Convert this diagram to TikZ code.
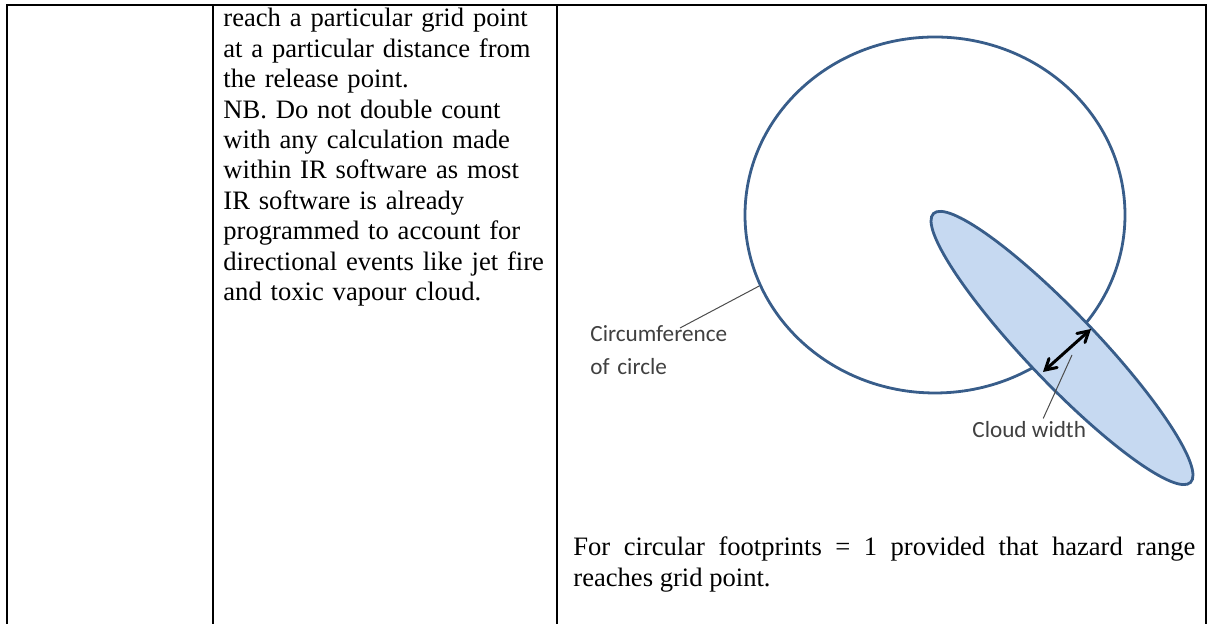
\documentclass[tikz,border=0pt]{standalone}
\usepackage{fontspec}
\setmainfont{Liberation Serif}
\newfontfamily\calibri{Carlito}
\usetikzlibrary{shapes.geometric,arrows}
\definecolor{shapeline}{HTML}{385D8A}
\definecolor{shapefill}{HTML}{C6D9F1}

\begin{document}
\begin{tikzpicture}[x=0.5pt, y=0.5pt,
		rule/.style={line width=1.2pt},
		body/.style={inner sep=0pt, anchor=base west, font=\fontsize{13.3pt}{15.2pt}\selectfont},
		callout/.style={inner sep=0pt, anchor=base west, align=left, text=black!75, font=\calibri\fontsize{11.6pt}{16.2pt}\selectfont},
		outline/.style={draw=shapeline, line width=1.4pt},
		leader/.style={draw=black!70, line width=0.5pt}]
		\useasboundingbox (0,0) rectangle (1211,624);
		\draw[rule] (7,0) -- (7,619) -- (1206,619) -- (1206,0)
		(213,0) -- (213,619)
		(557,0) -- (557,619);
		\node[body, text width=170pt, align=left] (desc) at (223,597)
		{reach a particular grid point\\at a particular distance from\\the release point.\\NB. Do not double count\\with any calculation made\\within IR software as most\\IR software is already\\programmed to account for\\directional events like jet fire\\and toxic vapour cloud.};
		\node[body, text width=311pt, align=justify] (note) at (573,68)
		{For circular footprints = 1 provided that hazard range\linebreak reaches grid point.};
		\node[outline, ellipse, minimum width=190pt, minimum height=178pt] (circ) at (935,409) {};
		\node[outline, fill=shapefill, ellipse, rotate=-46.3, minimum width=186pt, minimum height=35pt] (cloud) at (1062,276) {};
		\coordinate (wl) at (1043,252);
		\coordinate (wr) at (1091,295);
		\draw[<->, >=angle 60, line width=1.5pt] (wl) -- (wr);
		\node[callout, text width=80pt] (circlbl) at (590,282) {Circumference\\of circle};
		\coordinate (circtip) at (680,296);
		\draw[leader] (circtip) -- (circ.202);
		\node[callout] (cloudlbl) at (972,186) {Cloud width};
		\coordinate (cloudtip) at (1072,269);
		\draw[leader] ([xshift=7pt,yshift=1.5pt]cloudlbl.north) -- (cloudtip);
	\end{tikzpicture}
\end{document}
